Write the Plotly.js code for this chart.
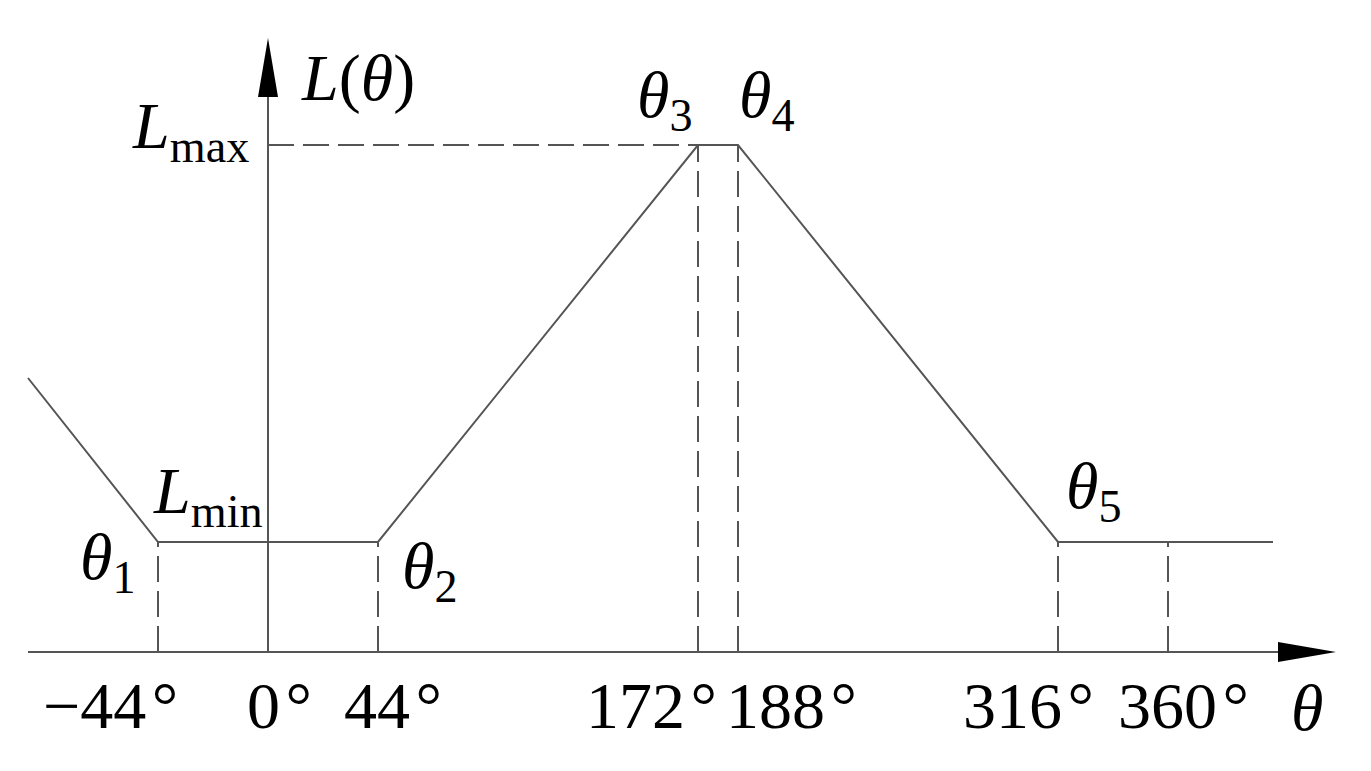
<!DOCTYPE html>
<html>
<head>
<meta charset="utf-8">
<script src="https://cdn.plot.ly/plotly-3.0.1.min.js"></script>
<style>
  html, body { margin: 0; padding: 0; background: #fff; }
  #chart { width: 1371px; height: 771px; }
</style>
</head>
<body>
<div id="chart"></div>
<script>
// Piecewise L(theta) profile (theta in degrees, L in arbitrary units)
const curveTheta = [-96, -44, 44, 172, 188, 316, 402];
const curveL = [2.74, 1.1, 1.1, 5.07, 5.07, 1.1, 1.1];

const L_MIN = 1.1;
const L_MAX = 5.07;

// Dashed drop lines
const dropTheta = [-44, 44, 172, 188, 316, 360];
const dropTop = [L_MIN, L_MIN, L_MAX, L_MAX, L_MIN, L_MIN];

// Axes extents
const xAxisFrom = -96;
const xAxisTo = 404;
const yAxisTop = 5.55;

// Tick labels under the theta axis
const tickVals = [-44, 0, 44, 172, 188, 316, 360];
const tickText = ['\u221244\u200a\u00b0', '0\u200a\u00b0', '44\u200a\u00b0', '172\u200a\u00b0',
  '188\u200a\u00b0', '316\u200a\u00b0', '360\u200a\u00b0'];
const tickShift = [-48, 11, 15, -47, 53, -30, 15];

// Symbol labels: text, theta, L
const symText = [
  '<i>L</i>(<i>\u03b8</i>)',
  '<i>L</i><sub>max</sub>',
  '<i>\u03b8</i><sub>3</sub>',
  '<i>\u03b8</i><sub>4</sub>',
  '<i>L</i><sub>min</sub>',
  '<i>\u03b8</i><sub>1</sub>',
  '<i>\u03b8</i><sub>2</sub>',
  '<i>\u03b8</i><sub>5</sub>',
  '<i>\u03b8</i>',
];
const symTheta = [36, -31.2, 158.8, 199.6, -24, -64, 64.8, 330.4, 415.6];
const symL = [5.74, 5.22, 5.53, 5.53, 1.57, 0.91, 0.82, 1.62, -0.55];

const FONT = 'Liberation Serif, Times New Roman, serif';
const INK = '#555';

// build dashed segments separated by nulls
const dashX = [0, 172, null];
const dashY = [L_MAX, L_MAX, null];
dropTheta.forEach((t, i) => {
  dashX.push(t, t, null);
  dashY.push(0, dropTop[i], null);
});

const traces = [
  {
    x: [xAxisFrom, xAxisTo], y: [0, 0],
    mode: 'lines', line: { color: INK, width: 2 }, hoverinfo: 'skip',
  },
  {
    x: [0, 0], y: [0, yAxisTop],
    mode: 'lines', line: { color: INK, width: 2 }, hoverinfo: 'skip',
  },
  {
    x: dashX, y: dashY,
    mode: 'lines', line: { color: INK, width: 2, dash: '26px,9px' }, hoverinfo: 'skip',
  },
  {
    x: curveTheta, y: curveL,
    mode: 'lines', line: { color: INK, width: 2 }, hoverinfo: 'skip',
  },
];

const annotations = [];
tickVals.forEach((v, i) => {
  annotations.push({
    x: v, y: -0.53, xref: 'x', yref: 'y',
    text: tickText[i], showarrow: false, xshift: tickShift[i],
    xanchor: 'center', yanchor: 'middle',
    font: { family: FONT, size: 66, color: '#000' },
  });
});
symText.forEach((t, i) => {
  annotations.push({
    x: symTheta[i], y: symL[i], xref: 'x', yref: 'y',
    text: t, showarrow: false,
    xanchor: 'center', yanchor: 'middle',
    font: { family: FONT, size: 66, color: '#000' },
  });
});

const shapes = [
  // arrowhead on L axis
  {
    type: 'path', xref: 'x', yref: 'y',
    xsizemode: 'pixel', ysizemode: 'pixel', xanchor: 0, yanchor: yAxisTop,
    path: 'M-10,0 L10,0 L0,59 Z',
    fillcolor: '#000', line: { width: 0 },
  },
  // arrowhead on theta axis
  {
    type: 'path', xref: 'x', yref: 'y',
    xsizemode: 'pixel', ysizemode: 'pixel', xanchor: xAxisTo, yanchor: 0,
    path: 'M0,-10 L0,10 L58,0 Z',
    fillcolor: '#000', line: { width: 0 },
  },
];

const layout = {
  width: 1371,
  height: 771,
  margin: { l: 0, r: 0, t: 0, b: 0, pad: 0 },
  paper_bgcolor: '#fff',
  plot_bgcolor: '#fff',
  showlegend: false,
  xaxis: { range: [-107.2, 441.2], visible: false, fixedrange: true },
  yaxis: { range: [-1.19, 6.52], visible: false, fixedrange: true },
  annotations,
  shapes,
};

Plotly.newPlot('chart', traces, layout, { displayModeBar: false, staticPlot: true });
</script>
</body>
</html>
